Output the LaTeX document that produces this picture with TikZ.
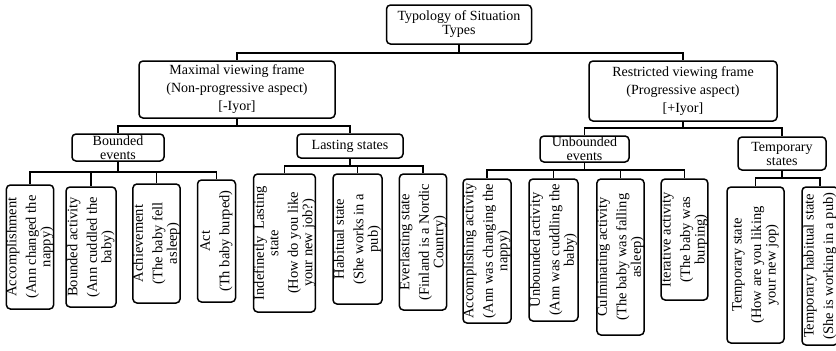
\documentclass[tikz,border=0pt]{standalone}
\usepackage{fontspec}
\setmainfont{Liberation Serif}
\begin{document}
\begin{tikzpicture}[x=1pt,y=-1pt,
  box/.style={draw, line width=1.5pt, rounded corners=4pt, inner sep=0pt, align=center,
    font=\fontsize{14}{14}\selectfont},
  leaf/.style={box, rotate=90, font=\fontsize{14.5}{14.5}\selectfont},
  conn/.style={line width=1.5pt}]
\useasboundingbox (0,0) rectangle (836,351);
\clip (0,0) rectangle (836,351);
% top
\node[box, minimum width=145pt, minimum height=39pt] (T) at (459,24.5) {Typology of Situation\\Types};
\node[box, minimum width=196pt, minimum height=57pt] (M) at (237,89.5) {Maximal viewing frame\\[4pt](Non-progressive aspect)\\[4pt][-Iyor]};
\node[box, minimum width=188pt, minimum height=60pt] (R) at (683,91) {Restricted viewing frame\\[4pt](Progressive aspect)\\[4pt][+Iyor]};
% second level
\node[box, minimum width=92pt, minimum height=27pt] (BE) at (118,147.5) {Bounded\\events};
\node[box, minimum width=106pt, minimum height=24pt] (LS) at (350,146) {Lasting states};
\node[box, minimum width=89pt, minimum height=26pt] (UE) at (584.5,149) {Unbounded\\events};
\node[box, minimum width=88pt, minimum height=33pt] (TS) at (782,153.5) {Temporary\\states};
% leaves
\node[leaf, minimum width=124pt, minimum height=46pt] (L1) at (30,247) {Accomplishment\\[5pt](Ann changed the\\nappy)};
\node[leaf, minimum width=120pt, minimum height=50pt] (L2) at (91,247) {Bounded activity\\[5pt](Ann cuddled the\\baby)};
\node[leaf, minimum width=119pt, minimum height=45pt] (L3) at (156.5,243.5) {Achievement\\[5pt](The baby fell\\asleep)};
\node[leaf, minimum width=122pt, minimum height=38pt] (L4) at (216.5,241) {Act\\[5pt](Th baby burped)};
\node[leaf, minimum width=138pt, minimum height=59pt] (L5) at (284.5,243) {Indefinetly~ Lasting\\state\\[5pt](How do you like\\your new job?)};
\node[leaf, minimum width=130pt, minimum height=49pt] (L6) at (357.5,239) {Habitual state\\[5pt](She works in a\\pub)};
\node[leaf, minimum width=136pt, minimum height=44pt] (L7) at (423,242) {Everlasting state\\[5pt](Finland is a Nordic\\Country)};
\node[leaf, minimum width=144pt, minimum height=48pt] (L8) at (487,251) {Accomplishing activity\\[5pt](Ann was changing the\\nappy)};
\node[leaf, minimum width=142pt, minimum height=49pt] (L9) at (553.5,250) {Unbounded activity\\[5pt](Ann was cuddling the\\baby)};
\node[leaf, minimum width=156pt, minimum height=47pt] (L10) at (620.5,257) {Culminating activity\\[5pt](The baby was falling\\asleep)};
\node[leaf, minimum width=121pt, minimum height=45pt] (L11) at (684.5,239.5) {Iterative activity\\[5pt](The baby was\\burping)};
\node[leaf, minimum width=156pt, minimum height=57pt] (L12) at (755.5,265) {Temporary state\\[5pt](How are you liking\\your new jop)};
\node[leaf, minimum width=158pt, minimum height=36pt] (L13) at (820,266) {Temporary habitual state\\[5pt](She is working in a pub)};
% bus junctions
\coordinate (j0) at (459,53);
\coordinate (jM) at (237,126);
\coordinate (jR) at (683,128);
\coordinate (jBE) at (118,172);
\coordinate (jLS) at (350,166);
\coordinate (jUE) at (584.5,170);
\coordinate (jTS) at (782,178);
% connectors
\draw[conn] (T.south) -- (j0);
\draw[conn] (j0) -| (M.north);
\draw[conn] (j0) -| (R.north);
\draw[conn] (M.south) -- (jM);
\draw[conn] (jM) -| (BE.north);
\draw[conn] (jM) -| (LS.north);
\draw[conn] (R.south) -- (jR);
\draw[conn] (jR) -| (UE.north);
\draw[conn] (jR) -| (TS.north);
\draw[conn] (BE.south) -- (jBE);
\foreach \c in {L1,L2,L3,L4} \draw[conn] (jBE) -| (\c.east);
\draw[conn] (LS.south) -- (jLS);
\foreach \c in {L5,L6,L7} \draw[conn] (jLS) -| (\c.east);
\draw[conn] (UE.south) -- (jUE);
\foreach \c in {L8,L9,L10,L11} \draw[conn] (jUE) -| (\c.east);
\draw[conn] (TS.south) -- (jTS);
\foreach \c in {L12,L13} \draw[conn] (jTS) -| (\c.east);
\end{tikzpicture}
\end{document}
